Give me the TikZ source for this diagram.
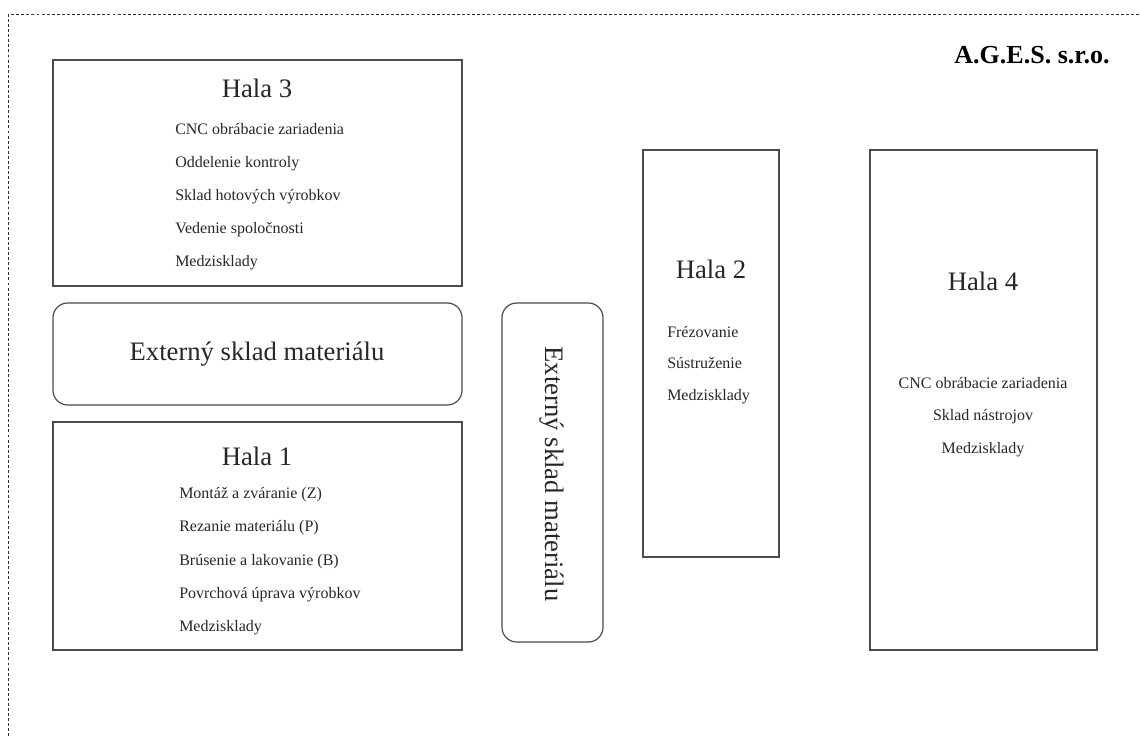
\documentclass[tikz,border=0pt]{standalone}
\usepackage{fontspec}
\setmainfont{Liberation Serif}
\usepackage{tikz}
\usetikzlibrary{positioning,calc}
\usepackage{xcolor}

\begin{document}
\begin{tikzpicture}[x=0.75pt,y=-0.75pt,
    every node/.style={font=\fontsize{12}{14}\selectfont,text=black!85,inner sep=0pt},
    hallbox/.style={draw=black!70,line width=.9pt},
    storebox/.style={draw=black!70,line width=.9pt,rounded corners=11pt},
    halltitle/.style={font=\fontsize{20}{24}\selectfont,anchor=base},
    item/.style={anchor=base west},
    citem/.style={anchor=base}]
  \useasboundingbox (0,0) rectangle (1140,736);
  \draw[dash pattern=on 2.2pt off 1.6pt,line width=.6pt,black!80] (8,14) rectangle (1160,760);

  \node[font=\bfseries\fontsize{19.5}{23}\selectfont,text=black,anchor=base] (firm) at (1032,63) {A.G.E.S. s.r.o.};

  % Hala 3
  \draw[hallbox] (53,60) rectangle (462,286);
  \node[halltitle] (h3) at (257,97) {Hala 3};
  \node[item] (h3a) at (175,134) {CNC obrábacie zariadenia};
  \node[item] (h3b) at (175,167) {Oddelenie kontroly};
  \node[item] (h3c) at (175,200) {Sklad hotových výrobkov};
  \node[item] (h3d) at (175,233) {Vedenie spoločnosti};
  \node[item] (h3e) at (175,266) {Medzisklady};

  % externe sklady
  \draw[storebox] (53,303) rectangle (462,405);
  \node[halltitle] (ext1) at (257,360) {Externý sklad materiálu};
  \draw[storebox] (502,303) rectangle (603,642);
  \node[font=\fontsize{20}{24}\selectfont,rotate=-90] (ext2) at (552,474) {Externý sklad materiálu};

  % Hala 1
  \draw[hallbox] (53,422) rectangle (462,650);
  \node[halltitle] (h1) at (257,465) {Hala 1};
  \node[item] (h1a) at (179,498) {Montáž a zváranie (Z)};
  \node[item] (h1b) at (179,531) {Rezanie materiálu (P)};
  \node[item] (h1c) at (179,565) {Brúsenie a lakovanie (B)};
  \node[item] (h1d) at (179,598) {Povrchová úprava výrobkov};
  \node[item] (h1e) at (179,631) {Medzisklady};

  % Hala 2
  \draw[hallbox] (643,150) rectangle (779,557);
  \node[halltitle] (h2) at (711,278) {Hala 2};
  \node[item] (h2a) at (667,337) {Frézovanie};
  \node[item] (h2b) at (667,368) {Sústruženie};
  \node[item] (h2c) at (667,400) {Medzisklady};

  % Hala 4
  \draw[hallbox] (870,150) rectangle (1097,650);
  \node[halltitle] (h4) at (983,290) {Hala 4};
  \node[citem] (h4a) at (983,388) {CNC obrábacie zariadenia};
  \node[citem] (h4b) at (983,420) {Sklad nástrojov};
  \node[citem] (h4c) at (983,453) {Medzisklady};
\end{tikzpicture}
\end{document}
